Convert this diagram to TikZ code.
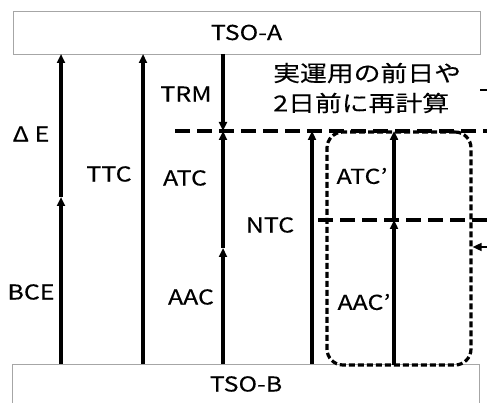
\documentclass[tikz,border=0pt]{standalone}
\usepackage{fontspec}
\setmainfont{Noto Sans CJK JP}[FakeStretch=1.22, FakeBold=0.3]
\usetikzlibrary{arrows.meta}

\tikzset{
  flow/.style={line width=3.2pt, -{Triangle[length=9pt,width=8pt]}},
  level/.style={line width=3.2pt, dash pattern=on 15pt off 7pt},
  tsobox/.style={draw=gray!70, line width=0.8pt, inner sep=0pt,
    minimum width=467pt},
  recalcbox/.style={draw, line width=3.2pt, dash pattern=on 6pt off 3pt,
    rounded corners=16pt, inner sep=0pt},
}

\begin{document}
\begin{tikzpicture}[x=1pt, y=-1pt, font=\fontsize{20.5}{29}\selectfont]

\useasboundingbox (0,0) rectangle (487,403);

% Define the two TSO boxes
\node[tsobox, minimum height=43pt] (tsoA) at (246.5,32.5) {TSO-A};
\node[tsobox, minimum height=40pt] (tsoB) at (246,384) {TSO-B};

% Define levels
\coordinate (e1) at (61,197);
\coordinate (a1) at (223,248);
\coordinate (a2) at (394,220);
\coordinate (m1) at (223,131);
\coordinate (m2) at (312,131);
\coordinate (m3) at (394,131);

% Dashed level lines
\coordinate (L1s) at (175,131);
\coordinate (L1e) at (487,131);
\coordinate (L2s) at (318,220);
\coordinate (L2e) at (487,220);
\draw[level] (L1s) -- (L1e);
\draw[level] (L2s) -- (L2e);

% Recalculated part
\node[recalcbox, minimum width=144pt, minimum height=233pt] (recalc) at (399,248.5) {};

% BCE and Delta E
\draw[flow] (61,364) -- (e1);
\draw[flow] (e1) -- (61,54);

% TTC
\draw[flow] (143,364) -- (143,54);

% TRM, ATC, AAC
\draw[flow] (223,54) -- (m1);
\draw[flow] (a1) -- (m1);
\draw[flow] (223,364) -- (a1);

% NTC
\draw[flow] (312,364) -- (m2);

% AAC' and ATC'
\draw[flow] (394,365) -- (a2);
\draw[flow] (a2) -- (m3);

% Arrow pointing at the box
\coordinate (pin) at (487,247);
\draw[flow, line width=1.6pt] (pin) -- (recalc.east |- pin);

% Leader to the note
\coordinate (lead1) at (480,90);
\coordinate (lead2) at (487,90);
\draw[line width=1.6pt] (lead1) -- (lead2);

% Labels
\node (dE) at (31,134) {Δ E};
\node (bce) at (31,292) {BCE};
\node (ttc) at (109,174) {TTC};
\node (trm) at (186,94) {TRM};
\node (atc) at (185,178) {ATC};
\node (aac) at (191,297) {AAC};
\node (ntc) at (270,225) {NTC};
\node (atcp) at (362,176) {ATC’};
\node (aacp) at (364,302) {AAC’};
\node[anchor=west, align=left, inner sep=0pt, font=\fontsize{22}{30}\selectfont] (note) at (273,88) {実運用の前日や\\2日前に再計算};

\end{tikzpicture}
\end{document}
